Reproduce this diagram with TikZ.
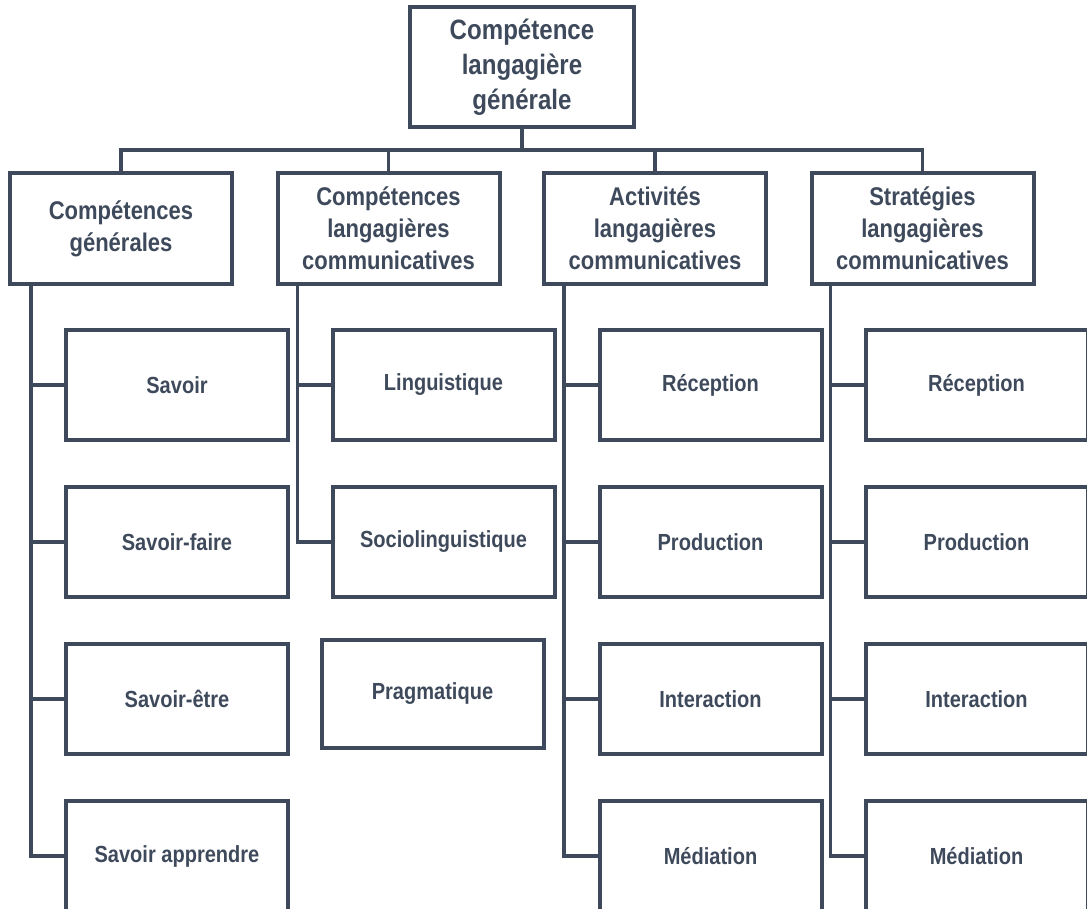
\documentclass[tikz,border=0pt]{standalone}
\usepackage{fontspec}
\setmainfont{Liberation Sans}
\newfontfamily\etroit[FakeStretch=0.86]{Liberation Sans}
\definecolor{ardoise}{HTML}{3E4A5B}
\begin{document}
\begin{tikzpicture}[x=1pt, y=1pt, color=ardoise, line width=3.5pt, line join=miter,
    boite/.style={draw, line width=4pt, align=center, inner sep=0pt, minimum width=222pt, minimum height=110pt, font=\etroit\bfseries\fontsize{23.3}{30}\selectfont},
    tete/.style={boite, minimum height=111pt, font=\etroit\bfseries\fontsize{25.6}{32}\selectfont}]
    \useasboundingbox (0,0) rectangle (1087,908);
    \clip (0,0) rectangle (1087,908);
    % racine et titres des colonnes
    \node[boite, minimum width=224pt, minimum height=120pt, font=\etroit\bfseries\fontsize{28}{35}\selectfont] (T) at (522,841) {Compétence\\langagière\\générale};
    \foreach \i/\x/\t in {1/121/{Compétences\\générales},2/388.5/{Compétences\\langagières\\communicatives},3/655/{Activités\\langagières\\communicatives},4/922.5/{Stratégies\\langagières\\communicatives}}
    \node[tete] (H\i) at (\x,679.5) {\t};
    \coordinate (bus) at (522,758);
    \draw (T.south)--(bus) (H1.north)|-(bus)-|(H4.north);
    \foreach \i in {2,3}
    \draw (H\i.north)--(H\i.north|-bus);
    % les boites de chaque colonne
    \foreach \j/\t in {1/Savoir,2/Savoir-faire,3/Savoir-être,4/Savoir apprendre}
    \node[boite] (A\j) at (177,{680-157*\j}) {\t};
    \foreach \j/\t in {1/Linguistique,2/Sociolinguistique}
    \node[boite] (B\j) at (443.5,{680-157*\j}) {\t};
    \node[boite, minimum height=108pt] (B3) at (432.5,214) {Pragmatique};
    \foreach \j/\t in {1/Réception,2/Production,3/Interaction,4/Médiation}
    \node[boite] (C\j) at (710.5,{680-157*\j}) {\t};
    \foreach \j/\t in {1/Réception,2/Production,3/Interaction,4/Médiation}
    \node[boite] (D\j) at (976.5,{680-157*\j}) {\t};
    % liaisons
    \foreach \j in {1,...,4}
    \draw ([xshift=23pt]H1.south west)|-(A\j.west) ([xshift=22pt]H3.south west)|-(C\j.west) ([xshift=21pt]H4.south west)|-(D\j.west);
    \foreach \j in {1,2}
    \draw ([xshift=22pt]H2.south west)|-(B\j.west);
\end{tikzpicture}
\end{document}
